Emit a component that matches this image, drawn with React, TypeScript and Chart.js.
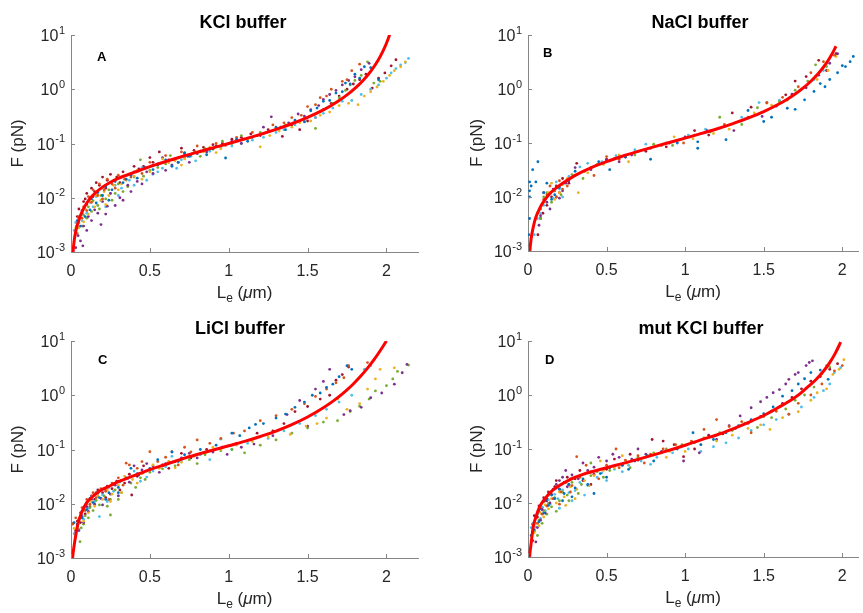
import React, { useEffect, useRef } from 'react';
import { Chart, registerables } from 'chart.js';

Chart.register(...registerables);

type Pt = [number, number];

// ---------- axis ticks ----------
const xTickValues = [0, 0.5, 1, 1.5, 2];
const xTickLabels = ['0', '0.5', '1', '1.5', '2'];
const yTickExponents = [-3, -2, -1, 0, 1];

// MATLAB default colour order (one colour per trace)
const seriesColors = ['#0072BD', '#D95319', '#EDB120', '#7E2F8E', '#77AC30', '#4DBEEE', '#A2142F'];

// ---------- panel titles ----------
const panelTitles = ['KCl buffer', 'NaCl buffer', 'LiCl buffer', 'mut KCl buffer'];
const panelLetters = ['A', 'B', 'C', 'D'];

// ---------- fitted curves (x in µm, F in pN) ----------
const kclCurveX = [0.011, 0.013, 0.02, 0.03, 0.045, 0.06, 0.08, 0.1, 0.13, 0.16, 0.2, 0.25, 0.3, 0.4, 0.5, 0.6, 0.7, 0.8, 0.9, 1.0, 1.1, 1.2, 1.3, 1.4, 1.5, 1.6, 1.65, 1.7, 1.75, 1.8, 1.85, 1.9, 1.95, 1.98, 2.0, 2.02];
const kclCurveY = [0.0008, 0.001, 0.0016, 0.0024, 0.0035, 0.0047, 0.0063, 0.008, 0.0104, 0.0127, 0.0157, 0.0193, 0.0228, 0.0293, 0.0375, 0.0465, 0.0571, 0.0691, 0.0832, 0.1, 0.121, 0.147, 0.182, 0.231, 0.303, 0.417, 0.503, 0.619, 0.786, 1.035, 1.435, 2.135, 3.54, 5.2, 7.05, 10.1];

const naclCurveX = [0.01, 0.012, 0.02, 0.035, 0.05, 0.075, 0.1, 0.14, 0.2, 0.3, 0.4, 0.5, 0.6, 0.7, 0.8, 0.9, 1.0, 1.1, 1.2, 1.3, 1.4, 1.5, 1.6, 1.65, 1.7, 1.75, 1.8, 1.85, 1.9, 1.93, 1.96];
const naclCurveY = [0.0008, 0.001, 0.0017, 0.0029, 0.0042, 0.0062, 0.0083, 0.0116, 0.0163, 0.0252, 0.0348, 0.0453, 0.0569, 0.0699, 0.0848, 0.1022, 0.123, 0.1489, 0.182, 0.2264, 0.2885, 0.3816, 0.5326, 0.647, 0.806, 1.037, 1.391, 1.977, 3.05, 4.2, 6.2];

const liclCurveX = [0.008, 0.01, 0.02, 0.03, 0.046, 0.07, 0.1, 0.14, 0.184, 0.24, 0.29, 0.4, 0.5, 0.6, 0.73, 0.85, 1.0, 1.1, 1.2, 1.3, 1.4, 1.5, 1.6, 1.67, 1.73, 1.78, 1.83, 1.88, 1.92, 1.96, 2.0];
const liclCurveY = [0.0008, 0.001, 0.0017, 0.0026, 0.0045, 0.0072, 0.0105, 0.0138, 0.0174, 0.0208, 0.0247, 0.033, 0.0427, 0.053, 0.0708, 0.0891, 0.1175, 0.141, 0.174, 0.219, 0.288, 0.398, 0.589, 0.813, 1.12, 1.51, 2.14, 3.16, 4.47, 6.6, 10];

const mutCurveX = [0.008, 0.01, 0.02, 0.034, 0.05, 0.076, 0.1, 0.14, 0.2, 0.27, 0.35, 0.5, 0.6, 0.75, 0.88, 1.0, 1.1, 1.2, 1.3, 1.4, 1.5, 1.6, 1.67, 1.73, 1.78, 1.83, 1.88, 1.92, 1.955, 1.99];
const mutCurveY = [0.0008, 0.001, 0.0018, 0.0037, 0.0055, 0.0087, 0.0112, 0.0155, 0.021, 0.0275, 0.034, 0.045, 0.0537, 0.0708, 0.0912, 0.1175, 0.148, 0.182, 0.234, 0.309, 0.417, 0.603, 0.794, 1.05, 1.41, 1.9, 2.75, 3.98, 5.9, 9.5];

// ---------- measured points, panel A (KCl) ----------
const kclS1: Pt[] = [[0.03,0.0022],[0.04,0.0038],[0.06,0.003],[0.07,0.0052],[0.09,0.0045],[0.1,0.0075],[0.12,0.006],[0.13,0.0095],[0.16,0.008],[0.17,0.0125],[0.2,0.011],[0.22,0.016],[0.26,0.014],[0.28,0.02],[0.33,0.019],[0.38,0.026],[0.42,0.023],[0.47,0.036],[0.52,0.033],[0.6,0.05],[0.68,0.045],[0.75,0.058],[0.82,0.072],[0.9,0.08],[0.98,0.054],[1.05,0.12],[1.12,0.11],[1.18,0.14],[1.24,0.16],[1.3,0.2],[1.36,0.18],[1.42,0.27],[1.48,0.25],[1.52,0.4],[1.56,0.45],[1.6,0.6],[1.64,0.62],[1.68,0.85],[1.72,0.9],[1.74,1.3],[1.77,1.25],[1.8,1.9],[1.83,1.6],[1.86,2.6],[1.9,2.5],[1.95,1.5],[0.24,0.009],[0.35,0.022],[0.55,0.04],[0.64,0.038],[0.72,0.068],[0.86,0.062]];
const kclS2: Pt[] = [[0.035,0.003],[0.05,0.0045],[0.07,0.0042],[0.08,0.0068],[0.1,0.0058],[0.11,0.0105],[0.13,0.0082],[0.14,0.014],[0.17,0.011],[0.18,0.018],[0.21,0.014],[0.23,0.022],[0.26,0.018],[0.3,0.026],[0.34,0.022],[0.4,0.03],[0.45,0.028],[0.5,0.045],[0.55,0.042],[0.6,0.06],[0.7,0.07],[0.76,0.062],[0.8,0.09],[0.92,0.1],[0.98,0.092],[1.05,0.13],[1.15,0.16],[1.22,0.15],[1.28,0.22],[1.35,0.24],[1.4,0.3],[1.46,0.33],[1.5,0.48],[1.55,0.52],[1.58,0.7],[1.62,0.75],[1.65,1.0],[1.72,1.4],[1.75,1.5],[1.78,2.2],[1.83,2.9],[0.2,0.0095],[0.28,0.015],[0.38,0.024],[0.48,0.036],[0.65,0.05],[0.86,0.078]];
const kclS3: Pt[] = [[0.03,0.0028],[0.05,0.0028],[0.06,0.0042],[0.08,0.0036],[0.09,0.0062],[0.11,0.005],[0.12,0.0085],[0.15,0.0068],[0.16,0.011],[0.19,0.009],[0.21,0.013],[0.24,0.011],[0.27,0.017],[0.3,0.014],[0.35,0.021],[0.4,0.025],[0.45,0.022],[0.5,0.03],[0.55,0.04],[0.62,0.044],[0.66,0.048],[0.72,0.052],[0.77,0.066],[0.84,0.07],[0.88,0.085],[0.95,0.08],[1.0,0.1],[1.12,0.12],[1.2,0.087],[1.26,0.14],[1.32,0.17],[1.4,0.2],[1.45,0.24],[1.52,0.26],[1.58,0.33],[1.64,0.38],[1.7,0.5],[1.76,0.55],[1.82,0.52],[1.86,0.75],[1.9,0.9],[1.94,1.1],[1.98,1.4],[2.02,1.8],[2.05,2.2],[2.09,2.6],[2.12,3.2],[0.22,0.0075],[0.32,0.018],[0.42,0.032],[0.58,0.052],[0.7,0.04],[0.92,0.068]];
const kclS4: Pt[] = [[0.03,0.0012],[0.045,0.002],[0.06,0.0016],[0.075,0.0013],[0.08,0.003],[0.1,0.0025],[0.11,0.0045],[0.13,0.0038],[0.15,0.006],[0.17,0.0052],[0.19,0.0032],[0.2,0.0085],[0.23,0.007],[0.25,0.012],[0.31,0.01],[0.33,0.009],[0.36,0.017],[0.42,0.02],[0.48,0.03],[0.52,0.028],[0.58,0.055],[0.64,0.04],[0.68,0.045],[0.74,0.058],[0.8,0.065],[0.86,0.07],[0.92,0.09],[1.02,0.11],[1.08,0.1],[1.15,0.13],[1.22,0.2],[1.27,0.31],[1.33,0.2],[1.38,0.24],[1.44,0.35],[1.48,0.32],[1.52,0.42],[1.57,0.5],[1.6,0.65],[1.64,0.8],[1.68,0.95],[1.72,1.2],[1.76,1.45],[1.8,1.7],[1.84,2.3],[1.89,3.0],[0.22,0.005],[0.28,0.0072],[0.38,0.013],[0.45,0.018],[0.6,0.032],[0.75,0.045]];
const kclS5: Pt[] = [[0.04,0.0022],[0.05,0.0035],[0.07,0.003],[0.08,0.0048],[0.1,0.0042],[0.11,0.0068],[0.13,0.0056],[0.14,0.0088],[0.17,0.0072],[0.19,0.011],[0.22,0.0095],[0.24,0.014],[0.28,0.012],[0.3,0.018],[0.36,0.016],[0.4,0.024],[0.44,0.05],[0.5,0.032],[0.55,0.036],[0.6,0.042],[0.66,0.05],[0.72,0.055],[0.78,0.068],[0.85,0.08],[0.9,0.078],[0.96,0.11],[1.02,0.1],[1.08,0.14],[1.14,0.13],[1.2,0.16],[1.3,0.19],[1.36,0.22],[1.42,0.26],[1.48,0.3],[1.55,0.19],[1.58,0.38],[1.62,0.45],[1.66,0.55],[1.7,0.7],[1.74,0.95],[1.77,1.2],[1.8,1.45],[1.84,1.8],[1.88,3.2],[1.92,1.3],[1.96,1.4],[0.18,0.0062],[0.26,0.009],[0.33,0.013],[0.46,0.025],[0.63,0.06],[0.82,0.058]];
const kclS6: Pt[] = [[0.02,0.0025],[0.03,0.0035],[0.04,0.0028],[0.05,0.0042],[0.07,0.0038],[0.08,0.0062],[0.1,0.0052],[0.12,0.0082],[0.14,0.0068],[0.16,0.0105],[0.19,0.0088],[0.21,0.014],[0.25,0.012],[0.28,0.017],[0.32,0.015],[0.37,0.021],[0.45,0.036],[0.48,0.021],[0.52,0.027],[0.58,0.035],[0.64,0.04],[0.7,0.05],[0.76,0.058],[0.82,0.07],[0.88,0.072],[0.95,0.085],[1.02,0.09],[1.08,0.1],[1.15,0.115],[1.22,0.13],[1.3,0.16],[1.35,0.18],[1.42,0.22],[1.48,0.26],[1.55,0.3],[1.6,0.36],[1.66,0.45],[1.72,0.6],[1.78,0.62],[1.84,0.8],[1.9,1.0],[1.95,1.2],[2.0,1.6],[2.03,2.0],[2.06,2.4],[2.09,2.8],[2.12,3.1],[2.14,3.7],[0.22,0.0068],[0.3,0.011],[0.4,0.017],[0.55,0.03],[0.67,0.035],[0.79,0.048]];
const kclS7: Pt[] = [[0.04,0.0045],[0.05,0.0062],[0.07,0.0058],[0.08,0.0085],[0.09,0.0095],[0.1,0.012],[0.12,0.01],[0.13,0.015],[0.15,0.013],[0.16,0.019],[0.18,0.017],[0.2,0.024],[0.23,0.021],[0.25,0.027],[0.29,0.024],[0.33,0.03],[0.38,0.027],[0.43,0.034],[0.46,0.038],[0.52,0.045],[0.56,0.07],[0.62,0.05],[0.66,0.052],[0.72,0.065],[0.78,0.075],[0.84,0.085],[0.9,0.095],[0.96,0.1],[1.02,0.12],[1.08,0.13],[1.14,0.15],[1.2,0.14],[1.25,0.18],[1.34,0.135],[1.4,0.22],[1.45,0.18],[1.5,0.26],[1.55,0.3],[1.6,0.42],[1.65,0.55],[1.7,0.75],[1.75,1.0],[1.79,1.25],[1.83,1.5],[1.87,1.9],[1.91,1.05],[1.95,1.6],[1.99,2.0],[2.03,2.7],[2.06,3.5],[0.14,0.0105],[0.22,0.015],[0.31,0.019],[0.4,0.038],[0.5,0.055],[0.7,0.082]];

// ---------- panel B (NaCl) ----------
const naclS1: Pt[] = [[0.005,0.002],[0.01,0.004],[0.01,0.01],[0.01,0.013],[0.01,0.019],[0.02,0.016],[0.03,0.032],[0.05,0.019],[0.063,0.045],[0.1,0.012],[0.12,0.018],[0.15,0.009],[0.17,0.011],[0.2,0.015],[0.25,0.02],[0.3,0.03],[0.45,0.045],[0.52,0.032],[0.62,0.055],[0.78,0.05],[0.95,0.1],[1.08,0.08],[1.08,0.105],[1.26,0.115],[1.4,0.4],[1.5,0.25],[1.55,0.3],[1.65,0.44],[1.7,0.42],[1.76,0.63],[1.82,0.9],[1.86,1.26],[1.89,1.1],[1.92,1.5],[1.97,2.0],[2.0,2.7],[2.02,2.6],[2.05,3.2],[2.07,4.0]];
const naclS2: Pt[] = [[0.08,0.006],[0.1,0.009],[0.12,0.011],[0.14,0.016],[0.16,0.013],[0.18,0.01],[0.2,0.02],[0.22,0.014],[0.25,0.016],[0.3,0.025],[0.36,0.03],[0.42,0.025],[0.5,0.056],[0.58,0.05],[0.7,0.07],[0.85,0.09],[0.99,0.1],[1.1,0.15],[1.25,0.22],[1.4,0.3],[1.52,0.55],[1.62,0.7],[1.72,1.1],[1.8,2.0],[1.88,3.2],[1.95,4.2]];
const naclS3: Pt[] = [[0.06,0.005],[0.1,0.008],[0.13,0.012],[0.15,0.018],[0.17,0.009],[0.2,0.012],[0.22,0.017],[0.25,0.022],[0.32,0.012],[0.38,0.028],[0.48,0.04],[0.58,0.06],[0.64,0.045],[0.8,0.085],[0.93,0.13],[1.05,0.12],[1.18,0.15],[1.28,0.18],[1.44,0.36],[1.55,0.5],[1.65,0.62],[1.74,1.0],[1.84,1.5],[1.91,2.2],[1.96,4.0]];
const naclS4: Pt[] = [[0.07,0.003],[0.08,0.0045],[0.1,0.012],[0.12,0.008],[0.14,0.006],[0.16,0.014],[0.18,0.01],[0.2,0.0095],[0.22,0.013],[0.24,0.018],[0.26,0.02],[0.3,0.035],[0.4,0.032],[0.5,0.048],[0.58,0.045],[0.66,0.06],[0.78,0.08],[0.9,0.1],[1.0,0.13],[1.14,0.17],[1.31,0.17],[1.38,0.28],[1.49,0.31],[1.58,0.48],[1.68,0.8],[1.77,1.05],[1.85,1.8],[1.92,3.0],[1.97,4.5]];
const naclS5: Pt[] = [[0.08,0.004],[0.1,0.01],[0.12,0.012],[0.15,0.008],[0.17,0.013],[0.19,0.015],[0.21,0.011],[0.23,0.018],[0.28,0.026],[0.35,0.022],[0.44,0.04],[0.55,0.052],[0.68,0.06],[0.8,0.095],[0.92,0.09],[1.06,0.14],[1.16,0.16],[1.22,0.3],[1.36,0.22],[1.46,0.45],[1.6,0.58],[1.7,0.95],[1.78,1.4],[1.83,2.8],[1.9,2.6]];
const naclS6: Pt[] = [[0.04,0.002],[0.06,0.004],[0.08,0.005],[0.1,0.007],[0.11,0.009],[0.14,0.012],[0.16,0.0095],[0.18,0.019],[0.2,0.014],[0.22,0.01],[0.26,0.024],[0.33,0.036],[0.38,0.042],[0.47,0.045],[0.56,0.058],[0.68,0.075],[0.75,0.095],[0.88,0.1],[1.02,0.14],[1.13,0.18],[1.25,0.2],[1.36,0.3],[1.47,0.56],[1.6,0.62],[1.73,0.95],[1.82,1.5],[1.88,2.2]];
const naclS7: Pt[] = [[0.063,0.002],[0.08,0.004],[0.095,0.005],[0.12,0.007],[0.13,0.011],[0.15,0.01],[0.17,0.013],[0.18,0.016],[0.2,0.012],[0.22,0.022],[0.26,0.018],[0.31,0.042],[0.4,0.035],[0.5,0.05],[0.62,0.055],[0.75,0.07],[0.88,0.085],[1.06,0.17],[1.15,0.14],[1.3,0.36],[1.42,0.46],[1.52,0.56],[1.64,0.78],[1.7,1.4],[1.77,1.7],[1.85,3.4],[1.9,2.2],[1.96,4.5]];

// ---------- panel C (LiCl) ----------
const liclS1: Pt[] = [[0.02,0.0045],[0.04,0.0042],[0.06,0.0068],[0.07,0.0055],[0.09,0.0095],[0.1,0.0078],[0.12,0.0125],[0.14,0.0105],[0.16,0.016],[0.18,0.013],[0.21,0.019],[0.24,0.016],[0.27,0.023],[0.3,0.02],[0.35,0.03],[0.42,0.036],[0.5,0.045],[0.58,0.05],[0.64,0.09],[0.72,0.08],[0.82,0.1],[0.92,0.12],[1.02,0.2],[1.07,0.18],[1.13,0.25],[1.17,0.29],[1.22,0.3],[1.3,0.38],[1.36,0.45],[1.42,0.6],[1.48,0.75],[1.53,1.0],[1.58,1.1],[1.62,1.4],[1.66,1.6],[1.7,2.2],[1.75,3.5],[1.78,3.0],[0.22,0.012],[0.3,0.016],[0.38,0.045],[0.46,0.038],[0.55,0.065],[0.68,0.06]];
const liclS2: Pt[] = [[0.01,0.0042],[0.015,0.0044],[0.03,0.0055],[0.05,0.0052],[0.07,0.0085],[0.09,0.0075],[0.1,0.012],[0.12,0.0098],[0.14,0.016],[0.16,0.013],[0.19,0.019],[0.22,0.017],[0.26,0.024],[0.3,0.03],[0.35,0.056],[0.37,0.052],[0.42,0.045],[0.5,0.091],[0.55,0.06],[0.64,0.091],[0.72,0.11],[0.8,0.15],[0.88,0.13],[0.95,0.16],[1.03,0.2],[1.1,0.22],[1.2,0.34],[1.3,0.42],[1.4,0.55],[1.48,0.7],[1.55,0.95],[1.62,1.3],[1.68,1.7],[1.73,2.1],[1.76,3.5],[1.88,4.0],[0.24,0.012],[0.33,0.022],[0.45,0.06],[0.6,0.072],[0.68,0.052],[0.76,0.09]];
const liclS3: Pt[] = [[0.02,0.0035],[0.04,0.0035],[0.06,0.0055],[0.08,0.0048],[0.09,0.0078],[0.11,0.0068],[0.13,0.011],[0.15,0.009],[0.17,0.014],[0.2,0.012],[0.23,0.018],[0.26,0.015],[0.3,0.022],[0.34,0.032],[0.39,0.028],[0.45,0.036],[0.48,0.04],[0.56,0.045],[0.62,0.06],[0.7,0.058],[0.78,0.075],[0.86,0.09],[0.95,0.1],[1.05,0.12],[1.15,0.14],[1.25,0.17],[1.39,0.19],[1.49,0.27],[1.56,0.3],[1.62,0.38],[1.69,0.85],[1.75,0.55],[1.83,0.7],[1.88,1.3],[1.93,2.0],[1.96,3.0],[2.05,3.2],[0.25,0.011],[0.32,0.016],[0.42,0.024],[0.52,0.052],[0.66,0.046],[0.9,0.11]];
const liclS4: Pt[] = [[0.03,0.003],[0.05,0.0032],[0.07,0.0058],[0.08,0.0045],[0.1,0.0088],[0.11,0.0072],[0.13,0.012],[0.15,0.0098],[0.17,0.0155],[0.19,0.0125],[0.22,0.018],[0.25,0.015],[0.28,0.022],[0.32,0.027],[0.37,0.025],[0.43,0.034],[0.45,0.042],[0.52,0.05],[0.6,0.055],[0.7,0.07],[0.8,0.07],[0.9,0.09],[0.99,0.081],[1.08,0.11],[1.16,0.126],[1.28,0.18],[1.37,0.44],[1.45,0.8],[1.5,0.27],[1.55,1.3],[1.6,1.8],[1.64,3.0],[1.73,0.44],[1.77,0.52],[1.84,0.6],[1.9,0.9],[1.97,1.1],[2.05,1.6],[2.1,2.6],[2.13,3.7],[0.2,0.0095],[0.3,0.014],[0.4,0.05],[0.48,0.055],[0.56,0.038],[0.75,0.085]];
const liclS5: Pt[] = [[0.03,0.0025],[0.057,0.002],[0.065,0.0036],[0.08,0.0042],[0.09,0.006],[0.11,0.0055],[0.12,0.0085],[0.14,0.0075],[0.16,0.0115],[0.18,0.0095],[0.21,0.014],[0.25,0.0062],[0.25,0.012],[0.28,0.018],[0.32,0.016],[0.38,0.024],[0.44,0.03],[0.5,0.038],[0.58,0.044],[0.66,0.05],[0.75,0.065],[0.85,0.08],[0.95,0.095],[1.02,0.1],[1.1,0.087],[1.2,0.12],[1.3,0.15],[1.4,0.2],[1.5,0.25],[1.6,0.32],[1.69,0.34],[1.77,0.5],[1.83,0.63],[1.89,0.85],[1.93,1.2],[2.0,1.5],[2.04,2.0],[2.07,2.75],[2.14,3.6],[0.23,0.009],[0.3,0.012],[0.41,0.02],[0.47,0.028],[0.62,0.06],[0.8,0.055]];
const liclS6: Pt[] = [[0.02,0.0028],[0.04,0.0038],[0.05,0.0034],[0.07,0.0062],[0.08,0.0052],[0.1,0.0098],[0.11,0.0082],[0.13,0.0135],[0.15,0.011],[0.18,0.0058],[0.18,0.017],[0.2,0.0145],[0.24,0.02],[0.27,0.017],[0.31,0.025],[0.36,0.029],[0.44,0.026],[0.52,0.04],[0.6,0.048],[0.7,0.062],[0.82,0.08],[0.95,0.155],[1.02,0.1],[1.12,0.13],[1.25,0.16],[1.35,0.22],[1.45,0.3],[1.55,0.42],[1.62,0.55],[1.7,0.75],[1.78,1.0],[1.86,3.0],[1.9,3.5],[0.23,0.011],[0.3,0.014],[0.4,0.04],[0.48,0.031],[0.64,0.075],[0.88,0.065]];
const liclS7: Pt[] = [[0.03,0.0032],[0.04,0.0048],[0.06,0.0045],[0.07,0.0072],[0.09,0.0065],[0.1,0.0105],[0.12,0.0088],[0.13,0.014],[0.15,0.012],[0.17,0.018],[0.2,0.016],[0.23,0.021],[0.26,0.019],[0.29,0.026],[0.34,0.024],[0.385,0.0145],[0.42,0.032],[0.5,0.042],[0.58,0.052],[0.66,0.06],[0.76,0.07],[0.86,0.1],[0.96,0.11],[1.05,0.13],[1.18,0.2],[1.28,0.22],[1.35,0.3],[1.42,0.5],[1.5,0.62],[1.58,0.85],[1.64,1.0],[1.68,1.9],[1.72,2.4],[1.76,3.3],[0.22,0.013],[0.31,0.018],[0.37,0.035],[0.46,0.05],[0.62,0.045],[0.7,0.085]];

// ---------- panel D (mut KCl) ----------
const mutS1: Pt[] = [[0.02,0.0025],[0.04,0.0032],[0.05,0.0052],[0.07,0.0045],[0.08,0.0078],[0.1,0.0065],[0.11,0.011],[0.13,0.009],[0.15,0.014],[0.17,0.012],[0.2,0.018],[0.23,0.015],[0.26,0.022],[0.3,0.019],[0.35,0.028],[0.42,0.015],[0.46,0.035],[0.52,0.045],[0.6,0.05],[0.68,0.06],[0.76,0.075],[0.85,0.085],[0.95,0.1],[1.05,0.2],[1.1,0.12],[1.18,0.15],[1.26,0.2],[1.34,0.27],[1.42,0.35],[1.5,0.45],[1.56,0.6],[1.62,0.95],[1.68,1.2],[1.72,1.6],[1.76,2.0],[1.8,2.6],[1.86,2.9],[1.91,1.95],[0.22,0.011],[0.28,0.013],[0.38,0.022],[0.5,0.03],[0.64,0.042],[0.8,0.06]];
const mutS2: Pt[] = [[0.03,0.003],[0.04,0.0045],[0.06,0.0042],[0.07,0.007],[0.09,0.0062],[0.1,0.0105],[0.12,0.0088],[0.13,0.014],[0.16,0.012],[0.18,0.019],[0.21,0.016],[0.24,0.024],[0.28,0.021],[0.31,0.072],[0.33,0.03],[0.4,0.038],[0.5,0.05],[0.56,0.1],[0.62,0.062],[0.7,0.075],[0.78,0.08],[0.86,0.1],[0.94,0.12],[1.04,0.14],[1.12,0.23],[1.2,0.35],[1.28,0.26],[1.36,0.32],[1.42,0.2],[1.5,0.4],[1.58,0.5],[1.66,0.44],[1.72,0.7],[1.8,1.0],[1.87,1.6],[1.95,2.8],[2.0,3.5],[0.2,0.0095],[0.27,0.016],[0.37,0.05],[0.45,0.028],[0.58,0.045],[0.74,0.055]];
const mutS3: Pt[] = [[0.02,0.002],[0.04,0.0028],[0.05,0.0042],[0.07,0.0038],[0.08,0.0065],[0.1,0.0055],[0.11,0.0092],[0.13,0.0078],[0.15,0.012],[0.18,0.01],[0.2,0.016],[0.23,0.013],[0.27,0.02],[0.31,0.018],[0.36,0.026],[0.42,0.032],[0.48,0.04],[0.55,0.045],[0.63,0.055],[0.72,0.065],[0.8,0.08],[0.9,0.09],[1.0,0.09],[1.1,0.12],[1.2,0.14],[1.3,0.18],[1.4,0.24],[1.48,0.28],[1.54,0.23],[1.62,0.38],[1.72,0.49],[1.8,0.8],[1.84,1.1],[1.9,1.3],[1.94,2.4],[1.98,3.0],[2.01,4.5],[0.24,0.009],[0.3,0.012],[0.39,0.021],[0.46,0.06],[0.6,0.075],[0.88,0.07]];
const mutS4: Pt[] = [[0.03,0.002],[0.05,0.0019],[0.06,0.0035],[0.08,0.0048],[0.09,0.0075],[0.11,0.0065],[0.12,0.012],[0.14,0.01],[0.16,0.018],[0.18,0.022],[0.2,0.026],[0.22,0.03],[0.25,0.02],[0.28,0.033],[0.32,0.028],[0.38,0.04],[0.42,0.046],[0.5,0.06],[0.58,0.07],[0.66,0.065],[0.75,0.08],[0.85,0.09],[0.99,0.06],[1.09,0.085],[1.2,0.15],[1.28,0.27],[1.35,0.41],[1.42,0.58],[1.48,0.75],[1.52,0.9],[1.56,1.1],[1.6,1.26],[1.64,1.6],[1.66,1.95],[1.7,2.4],[1.72,2.6],[1.77,3.5],[1.79,4.0],[1.81,4.3],[0.24,0.04],[0.27,0.028],[0.35,0.055],[0.45,0.07],[0.54,0.08],[0.7,0.1]];
const mutS5: Pt[] = [[0.04,0.003],[0.06,0.0025],[0.07,0.0048],[0.09,0.0042],[0.1,0.0072],[0.12,0.0062],[0.13,0.0098],[0.15,0.0085],[0.17,0.0125],[0.2,0.011],[0.22,0.016],[0.25,0.014],[0.28,0.024],[0.3,0.03],[0.34,0.022],[0.4,0.032],[0.44,0.038],[0.52,0.04],[0.6,0.052],[0.7,0.07],[0.8,0.085],[0.88,0.1],[0.98,0.12],[1.06,0.13],[1.12,0.16],[1.22,0.2],[1.3,0.22],[1.38,0.3],[1.46,0.25],[1.55,0.38],[1.64,0.55],[1.7,0.8],[1.76,1.0],[1.82,1.4],[1.87,2.5],[1.9,3.5],[1.92,3.3],[0.18,0.007],[0.26,0.011],[0.32,0.015],[0.4,0.055],[0.48,0.03],[0.65,0.045]];
const mutS6: Pt[] = [[0.02,0.0035],[0.03,0.0042],[0.05,0.0036],[0.06,0.0062],[0.08,0.0052],[0.09,0.0085],[0.11,0.0072],[0.13,0.0115],[0.14,0.0095],[0.17,0.0145],[0.19,0.012],[0.22,0.0175],[0.26,0.0155],[0.3,0.017],[0.33,0.024],[0.38,0.021],[0.44,0.03],[0.47,0.036],[0.55,0.042],[0.64,0.05],[0.72,0.06],[0.82,0.07],[0.92,0.085],[1.02,0.1],[1.1,0.09],[1.18,0.11],[1.26,0.13],[1.34,0.16],[1.42,0.22],[1.5,0.28],[1.58,0.35],[1.66,0.44],[1.74,0.6],[1.82,0.9],[1.88,1.2],[1.92,1.6],[1.95,2.6],[1.99,3.2],[0.2,0.008],[0.28,0.011],[0.36,0.014],[0.5,0.026],[0.6,0.038],[0.78,0.052]];
const mutS7: Pt[] = [[0.03,0.004],[0.04,0.0058],[0.06,0.0055],[0.07,0.0088],[0.09,0.0082],[0.1,0.0125],[0.12,0.011],[0.13,0.016],[0.15,0.0145],[0.17,0.02],[0.2,0.018],[0.23,0.024],[0.26,0.022],[0.3,0.028],[0.35,0.026],[0.42,0.034],[0.5,0.042],[0.6,0.05],[0.7,0.062],[0.79,0.15],[0.86,0.14],[0.93,0.12],[0.99,0.072],[1.06,0.1],[1.15,0.18],[1.24,0.19],[1.32,0.24],[1.4,0.3],[1.48,0.4],[1.55,0.5],[1.62,0.7],[1.68,0.9],[1.74,1.3],[1.8,1.8],[1.86,2.2],[1.92,3.0],[1.97,3.8],[0.18,0.026],[0.25,0.03],[0.33,0.04],[0.4,0.022],[0.55,0.065],[0.65,0.08]];

// ---------- layout (pixels) ----------
interface Box { left: number; top: number; width: number; height: number }
interface Pad { left: number; top: number; right: number; bottom: number }
interface PanelSpec {
  title: string; letter: string;
  series: Pt[][]; curveX: number[]; curveY: number[];
  xMax: number; box: Box; pad: Pad;
  titleX: number; letterX: number; letterY: number; yLabelOffset: number;
}

const FONT = '"Liberation Sans", Arial, Helvetica, sans-serif';
const AXIS_COLOR = '#868686';
const TEXT_COLOR = '#262626';

const panels: PanelSpec[] = [
  { title: panelTitles[0], letter: panelLetters[0], series: [kclS1, kclS2, kclS3, kclS4, kclS5, kclS6, kclS7], curveX: kclCurveX, curveY: kclCurveY,
    xMax: 2.2, box: { left: 0, top: 0, width: 431, height: 306 }, pad: { left: 71, top: 35, right: 13, bottom: 54 },
    titleX: 243, letterX: 97, letterY: 61, yLabelOffset: 53 },
  { title: panelTitles[1], letter: panelLetters[1], series: [naclS1, naclS2, naclS3, naclS4, naclS5, naclS6, naclS7], curveX: naclCurveX, curveY: naclCurveY,
    xMax: 2.1, box: { left: 431, top: 0, width: 432, height: 306 }, pad: { left: 97, top: 35, right: 5, bottom: 55 },
    titleX: 269, letterX: 112, letterY: 57, yLabelOffset: 51 },
  { title: panelTitles[2], letter: panelLetters[2], series: [liclS1, liclS2, liclS3, liclS4, liclS5, liclS6, liclS7], curveX: liclCurveX, curveY: liclCurveY,
    xMax: 2.2, box: { left: 0, top: 306, width: 431, height: 307 }, pad: { left: 71, top: 35, right: 13, bottom: 55 },
    titleX: 240, letterX: 98, letterY: 58, yLabelOffset: 53 },
  { title: panelTitles[3], letter: panelLetters[3], series: [mutS1, mutS2, mutS3, mutS4, mutS5, mutS6, mutS7], curveX: mutCurveX, curveY: mutCurveY,
    xMax: 2.1, box: { left: 431, top: 306, width: 432, height: 307 }, pad: { left: 97, top: 35, right: 5, bottom: 56 },
    titleX: 270, letterX: 114, letterY: 58, yLabelOffset: 51 },
];

function makeDecor(spec: PanelSpec) {
  return {
    id: 'decor',
    afterDraw(chart: any) {
      const { ctx, chartArea: ca } = chart;
      const xs = chart.scales.x;
      const ys = chart.scales.y;
      ctx.save();

      // inward tick marks
      ctx.strokeStyle = AXIS_COLOR;
      ctx.lineWidth = 1;
      ctx.beginPath();
      xTickValues.forEach((v) => {
        const px = Math.round(xs.getPixelForValue(v)) + 0.5;
        ctx.moveTo(px, ca.bottom);
        ctx.lineTo(px, ca.bottom - 4);
      });
      yTickExponents.forEach((e) => {
        const py = Math.round(ys.getPixelForValue(Math.pow(10, e))) + 0.5;
        ctx.moveTo(ca.left, py);
        ctx.lineTo(ca.left + 4, py);
      });
      ctx.stroke();

      ctx.fillStyle = TEXT_COLOR;
      // x tick labels
      ctx.font = `16px ${FONT}`;
      ctx.textAlign = 'center';
      ctx.textBaseline = 'alphabetic';
      xTickValues.forEach((v, i) => {
        ctx.fillText(xTickLabels[i], xs.getPixelForValue(v), ca.bottom + 24);
      });

      // y tick labels: 10^e
      ctx.textAlign = 'left';
      yTickExponents.forEach((e) => {
        const py = ys.getPixelForValue(Math.pow(10, e));
        const es = String(e);
        ctx.font = `16px ${FONT}`;
        const w1 = ctx.measureText('10').width;
        ctx.font = `11px ${FONT}`;
        const w2 = ctx.measureText(es).width;
        const x0 = ca.left - 6 - w1 - w2 - 0.5;
        ctx.font = `16px ${FONT}`;
        ctx.fillText('10', x0, py + 6);
        ctx.font = `11px ${FONT}`;
        ctx.fillText(es, x0 + w1 + 0.5, py - 1.5);
      });

      // y axis label
      ctx.save();
      ctx.translate(ca.left - spec.yLabelOffset, (ca.top + ca.bottom) / 2);
      ctx.rotate(-Math.PI / 2);
      ctx.textAlign = 'center';
      ctx.textBaseline = 'middle';
      ctx.font = `17px ${FONT}`;
      ctx.fillText('F (pN)', 0, 0);
      ctx.restore();

      // x axis label: L_e (μm)
      const parts: { t: string; font: string; dy: number }[] = [
        { t: 'L', font: `17px ${FONT}`, dy: 0 },
        { t: 'e', font: `12px ${FONT}`, dy: 4 },
        { t: ' (', font: `17px ${FONT}`, dy: 0 },
        { t: 'μ', font: `italic 17px ${FONT}`, dy: 0 },
        { t: 'm)', font: `17px ${FONT}`, dy: 0 },
      ];
      let total = 0;
      parts.forEach((p) => { ctx.font = p.font; total += ctx.measureText(p.t).width; });
      let cx = (ca.left + ca.right) / 2 - total / 2;
      const by = ca.bottom + 46;
      ctx.textAlign = 'left';
      ctx.textBaseline = 'alphabetic';
      parts.forEach((p) => {
        ctx.font = p.font;
        ctx.fillText(p.t, cx, by + p.dy);
        cx += ctx.measureText(p.t).width;
      });

      // title
      ctx.fillStyle = '#000000';
      ctx.font = `bold 18px ${FONT}`;
      ctx.textAlign = 'center';
      ctx.fillText(spec.title, spec.titleX, ca.top - 7);

      // panel letter
      ctx.font = `bold 13px ${FONT}`;
      ctx.textAlign = 'left';
      ctx.fillText(spec.letter, spec.letterX, spec.letterY);

      ctx.restore();
    },
  };
}

function Panel({ spec }: { spec: PanelSpec }) {
  const ref = useRef<HTMLCanvasElement>(null);
  useEffect(() => {
    if (!ref.current) return;
    const datasets: any[] = spec.series.map((pts, i) => ({
      type: 'scatter',
      label: `trace ${i + 1}`,
      data: pts.map(([x, y]) => ({ x, y })),
      backgroundColor: seriesColors[i],
      borderColor: seriesColors[i],
      pointRadius: 1.4,
      pointBorderWidth: 0,
      pointStyle: 'circle',
      order: 1,
    }));
    datasets.push({
      type: 'line',
      label: 'fit',
      data: spec.curveX.map((x, i) => ({ x, y: spec.curveY[i] })),
      borderColor: '#FF0000',
      backgroundColor: '#FF0000',
      borderWidth: 3,
      pointRadius: 0,
      fill: false,
      cubicInterpolationMode: 'monotone',
      order: -1,
    });
    const chart = new Chart(ref.current, {
      type: 'scatter',
      data: { datasets },
      options: {
        responsive: false,
        animation: false,
        events: [],
        layout: { padding: spec.pad },
        plugins: { legend: { display: false }, tooltip: { enabled: false }, title: { display: false } },
        scales: {
          x: {
            type: 'linear', min: 0, max: spec.xMax,
            grid: { display: false, drawTicks: false, tickLength: 0 },
            border: { display: true, color: AXIS_COLOR, width: 1 },
            ticks: { display: false },
          },
          y: {
            type: 'logarithmic', min: 0.001, max: 10,
            grid: { display: false, drawTicks: false, tickLength: 0 },
            border: { display: true, color: AXIS_COLOR, width: 1 },
            ticks: { display: false },
          },
        },
      },
      plugins: [makeDecor(spec)],
    } as any);
    return () => chart.destroy();
  }, [spec]);
  return (
    <canvas
      ref={ref}
      width={spec.box.width}
      height={spec.box.height}
      style={{ position: 'absolute', left: spec.box.left, top: spec.box.top, width: spec.box.width, height: spec.box.height }}
    />
  );
}

export default function App() {
  return (
    <div style={{ position: 'absolute', left: 0, top: 0, width: 863, height: 613, background: '#ffffff' }}>
      {panels.map((p) => (
        <Panel key={p.letter} spec={p} />
      ))}
    </div>
  );
}
